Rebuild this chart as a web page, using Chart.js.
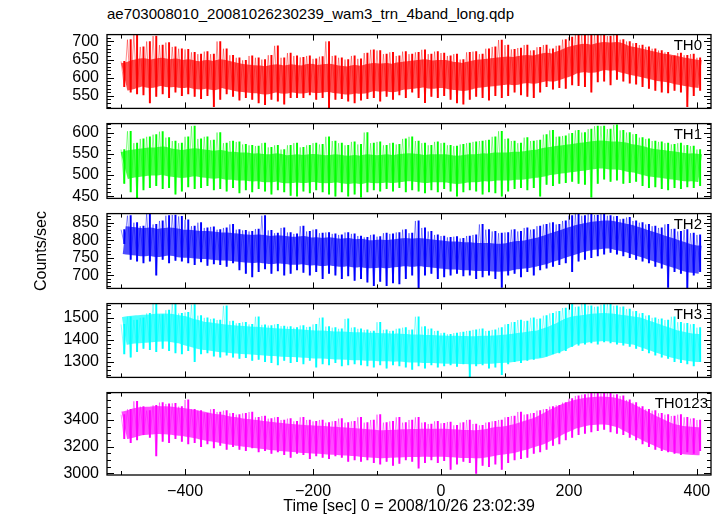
<!DOCTYPE html>
<html>
<head>
<meta charset="utf-8">
<script src="https://cdn.jsdelivr.net/npm/chart.js@4.4.1/dist/chart.umd.min.js"></script>
<style>
  body { margin: 0; background: #fff; }
  #page { position: relative; width: 723px; height: 516px; overflow: hidden; }
  #page canvas { position: absolute; left: 0; }
  #title { position: absolute; left: 107px; top: 5px; font: 15px "Liberation Sans", Arial, sans-serif; line-height: 17px; white-space: nowrap; color: #000; }
</style>
</head>
<body>
<div id="page"><div id="title">ae703008010_20081026230239_wam3_trn_4band_long.qdp</div></div>
<script>
// bin start times (sec), 10 s bins
const times = [-500,-490,-480,-470,-460,-450,-440,-430,-420,-410,-400,-390,-380,-370,-360,-350,-340,-330,-320,-310,
  -300,-290,-280,-270,-260,-250,-240,-230,-220,-210,-200,-190,-180,-170,-160,-150,-140,-130,-120,-110,
  -100,-90,-80,-70,-60,-50,-40,-30,-20,-10,0,10,20,30,40,50,60,70,80,90,
  100,110,120,130,140,150,160,170,180,190,200,210,220,230,240,250,260,270,280,290,
  300,310,320,330,340,350,360,370,380,390,400];

// per-bin high / centre / low count rates
const th0Hi = [645,705,719,685,700,715,690,697,685,680, 678,670,665,672,665,700,680,662,655,648,
  660,655,650,662,688,655,668,660,656,660, 652,658,700,660,655,650,660,652,668,677,
  675,665,670,660,672,665,670,677,665,672, 668,660,665,650,670,672,665,680,685,704,
  690,678,682,690,675,684,690,680,688,705, 712,719,719,719,719,719,715,719,705,700,
  695,690,685,680,675,670,660,668,662,665, 655];
const th0Mid = [602,606,612,615,610,614,616,612,614,610, 612,608,606,610,604,612,608,604,600,598,
  596,595,592,596,598,594,598,596,595,600, 596,598,600,596,594,592,596,594,598,602,
  600,602,598,604,606,608,610,612,608,610, 610,606,604,602,606,610,612,614,616,618,
  620,618,622,624,622,626,630,628,634,640, 648,652,655,652,656,660,658,660,652,648,
  644,640,636,632,628,626,622,618,615,612, 610];
const th0Lo = [575,560,555,552,530,548,555,545,560,550, 555,548,542,550,520,540,555,548,538,545,
  540,530,525,540,535,527,545,545,545,552, 540,545,515,540,542,535,530,538,542,545,
  535,548,540,552,545,560,545,531,548,545, 550,540,530,527,540,548,545,538,550,545,
  550,560,552,548,545,560,575,568,572,570, 580,578,575,560,588,590,580,595,590,585,
  582,575,570,565,560,558,565,560,520,550, 565];

const th1Hi = [560,603,575,585,590,595,602,588,580,575, 590,615,585,590,582,600,575,580,578,572,
  570,568,575,565,570,560,570,575,565,570, 575,572,590,580,575,570,578,572,600,575,
  578,570,575,572,585,590,580,575,570,578, 575,570,568,572,575,578,580,582,590,603,
  585,580,575,588,580,582,595,605,590,592, 598,605,600,608,615,615,608,618,605,600,
  596,588,585,580,578,575,572,575,570,568, 560];
const th1Mid = [522,526,528,530,532,532,534,530,528,526, 528,530,528,526,524,526,522,522,520,520,
  518,518,516,516,518,514,514,516,514,516, 516,514,514,516,514,512,514,512,516,514,
  514,516,514,516,518,518,516,514,516,516, 516,514,512,514,516,516,518,518,520,520,
  520,522,522,524,526,528,532,534,536,538, 540,542,544,546,548,548,546,546,544,540,
  538,534,530,528,526,524,522,520,518,518, 516];
const th1Lo = [480,460,446,465,470,475,468,470,455,462, 472,468,470,475,465,468,462,470,458,465,
  460,468,462,455,465,460,452,450,462,458, 465,460,455,450,460,450,455,448,460,465,
  462,468,462,470,460,465,462,458,465,460, 468,462,450,460,465,462,455,460,458,450,
  462,468,470,465,470,450,478,475,480,482, 485,480,478,448,480,490,485,488,480,482,
  485,475,470,472,468,465,470,468,472,470, 475];

const th2Hi = [830,870,850,840,876,845,855,870,872,868, 858,840,850,835,838,830,835,845,830,828,
  825,832,870,828,820,835,822,818,840,825, 830,820,822,818,815,822,818,812,808,815,
  810,820,818,822,830,820,855,835,825,815, 812,808,810,805,812,815,845,830,825,820,
  822,830,825,835,830,840,845,850,845,855, 870,876,870,876,872,875,870,868,860,865,
  855,850,845,840,835,845,832,825,830,820, 815];
const th2Mid = [800,798,796,794,796,792,794,796,794,790, 790,788,786,786,784,782,782,780,778,776,
  775,776,774,772,774,772,770,770,772,768, 768,766,768,766,764,766,762,764,760,760,
  762,760,762,764,766,764,766,764,762,760, 758,756,756,754,754,752,752,752,750,750,
  752,756,758,760,764,768,774,780,786,792, 798,804,808,812,814,816,816,812,808,804,
  798,792,786,780,774,768,762,756,750,746, 744];
const th2Lo = [790,745,740,735,740,700,745,735,742,740, 735,730,738,728,732,730,725,735,715,705,
  695,710,718,705,712,700,705,715,708,700, 710,690,705,700,690,698,685,690,680,670,
  682,670,678,675,690,700,662,700,705,690, 695,700,705,698,700,690,695,700,690,665,
  700,705,695,710,700,715,720,725,730,735, 710,740,745,750,755,760,765,760,755,750,
  745,740,735,725,720,665,710,705,662,700, 710];

const th3Hi = [1470,1505,1490,1500,1520,1565,1515,1535,1565,1520, 1525,1560,1510,1500,1495,1490,1555,1485,1475,1480,
  1470,1505,1468,1465,1470,1462,1460,1455,1465,1458, 1470,1500,1460,1455,1450,1495,1455,1450,1445,1440,
  1480,1445,1440,1450,1455,1445,1505,1460,1450,1440, 1430,1425,1430,1435,1440,1445,1450,1440,1445,1455,
  1470,1480,1490,1485,1500,1495,1510,1520,1530,1545, 1565,1550,1565,1555,1550,1560,1565,1555,1550,1540,
  1530,1520,1510,1500,1495,1490,1505,1480,1475,1470, 1455];
const th3Mid = [1440,1445,1448,1450,1452,1455,1456,1455,1450,1446, 1436,1428,1420,1416,1412,1408,1405,1402,1400,1398,
  1396,1394,1392,1390,1388,1386,1385,1384,1382,1380, 1378,1378,1376,1374,1374,1372,1370,1370,1368,1368,
  1366,1366,1364,1364,1362,1360,1360,1358,1358,1356, 1355,1354,1354,1353,1352,1352,1354,1354,1356,1358,
  1360,1364,1368,1372,1376,1380,1390,1400,1412,1426, 1440,1446,1450,1454,1456,1458,1456,1452,1448,1444,
  1440,1430,1420,1410,1400,1390,1380,1374,1368,1364, 1362];
const th3Lo = [1335,1320,1345,1360,1355,1345,1360,1350,1340,1335, 1350,1300,1335,1340,1325,1320,1330,1320,1315,1318,
  1305,1310,1300,1295,1285,1305,1295,1300,1290,1305, 1275,1290,1285,1295,1280,1285,1290,1285,1280,1275,
  1285,1270,1285,1280,1275,1265,1280,1270,1285,1275, 1280,1285,1278,1290,1230,1280,1285,1270,1275,1240,
  1290,1300,1295,1305,1310,1320,1325,1335,1340,1350, 1370,1375,1380,1385,1380,1390,1385,1380,1375,1370,
  1360,1350,1340,1330,1320,1315,1300,1295,1290,1280, 1300];

const th0123Hi = [3440,3480,3540,3500,3470,3510,3530,3520,3525,3500, 3550,3480,3470,3450,3480,3460,3470,3450,3440,3450,
  3460,3420,3430,3410,3420,3400,3410,3390,3420,3400, 3390,3400,3380,3390,3410,3380,3390,3420,3380,3400,
  3440,3380,3390,3420,3380,3400,3420,3380,3370,3390, 3375,3385,3360,3380,3400,3370,3360,3380,3390,3400,
  3420,3430,3460,3440,3450,3470,3480,3500,3510,3530, 3560,3580,3590,3600,3605,3600,3605,3590,3580,3550,
  3530,3500,3480,3470,3450,3440,3430,3440,3420,3410, 3400];
const th0123Mid = [3360,3370,3385,3392,3395,3400,3398,3396,3390,3385, 3378,3370,3360,3350,3342,3335,3325,3318,3310,3304,
  3298,3292,3286,3280,3275,3270,3266,3262,3258,3255, 3252,3250,3246,3244,3240,3238,3234,3230,3226,3222,
  3218,3220,3222,3224,3226,3228,3228,3230,3228,3230, 3229,3226,3224,3220,3220,3218,3222,3230,3240,3246,
  3252,3262,3275,3290,3305,3321,3345,3370,3395,3416, 3436,3450,3460,3466,3470,3470,3466,3455,3440,3415,
  3390,3365,3340,3318,3296,3275,3262,3252,3246,3242, 3240];
const th0123Lo = [3260,3230,3250,3290,3270,3130,3240,3230,3260,3240, 3220,3230,3200,3220,3190,3210,3180,3200,3180,3170,
  3190,3160,3170,3150,3160,3140,3120,3150,3140,3110, 3130,3120,3110,3130,3120,3090,3100,3090,3100,3080,
  3070,3090,3060,3075,3100,3090,3040,3080,3100,3080, 3095,3030,3070,3090,3080,3000,3060,3050,3070,3030,
  3080,3100,3110,3120,3150,3160,3180,3210,3220,3250, 3270,3290,3300,3310,3320,3330,3310,3300,3290,3270,
  3250,3220,3200,3180,3170,3160,3150,3140,3160,3150, 3170];

// tick labels
const xTickLabels = [-400, -200, 0, 200, 400];
const th0Ticks = [550, 600, 650, 700];
const th1Ticks = [450, 500, 550, 600];
const th2Ticks = [700, 750, 800, 850];
const th3Ticks = [1300, 1400, 1500];
const th0123Ticks = [3000, 3200, 3400];
const xTitle = 'Time [sec] 0 = 2008/10/26 23:02:39';
const yTitle = 'Counts/sec';

const FONT = '"Liberation Sans", Arial, Helvetica, sans-serif';
Chart.defaults.font.family = FONT;
Chart.defaults.color = '#000';

const panels = [
  { name: 'TH0', hi: th0Hi, mid: th0Mid, lo: th0Lo, ticks: th0Ticks, color: '255,0,0', min: 515, max: 719, minor: 10, labelX: 702 },
  { name: 'TH1', hi: th1Hi, mid: th1Mid, lo: th1Lo, ticks: th1Ticks, color: '0,255,0', min: 445, max: 621, minor: 10, labelX: 702 },
  { name: 'TH2', hi: th2Hi, mid: th2Mid, lo: th2Lo, ticks: th2Ticks, color: '0,0,255', min: 662, max: 876, minor: 10, labelX: 702 },
  { name: 'TH3', hi: th3Hi, mid: th3Mid, lo: th3Lo, ticks: th3Ticks, color: '0,255,255', min: 1228, max: 1565, minor: 20, labelX: 702 },
  { name: 'TH0123', hi: th0123Hi, mid: th0123Mid, lo: th0123Lo, ticks: th0123Ticks, color: '255,0,255', min: 2988, max: 3605, minor: 50, labelX: 708 }
];

const fmt = v => (v < 0 ? '\u2212' + (-v) : String(v));

// frame, inward ticks and panel name
const frameTicks = {
  id: 'frameTicks',
  afterDatasetsDraw(chart, args, opts) {
    const { ctx, chartArea: a } = chart;
    const x = chart.scales.x, y = chart.scales.y;
    ctx.save();
    ctx.strokeStyle = '#000';
    ctx.lineWidth = 1;
    ctx.beginPath();
    for (let v = -500; v <= 400; v += 100) {
      const px = Math.round(x.getPixelForValue(v)) + 0.5;
      const len = v % 200 === 0 ? 6 : 4;
      ctx.moveTo(px, a.top); ctx.lineTo(px, a.top + len);
      ctx.moveTo(px, a.bottom); ctx.lineTo(px, a.bottom - len);
    }
    for (let v = Math.ceil(y.min / opts.minor) * opts.minor; v <= y.max; v += opts.minor) {
      const py = Math.round(y.getPixelForValue(v)) + 0.5;
      const len = opts.major.includes(v) ? 7 : 4;
      ctx.moveTo(a.left, py); ctx.lineTo(a.left + len, py);
      ctx.moveTo(a.right, py); ctx.lineTo(a.right - len, py);
    }
    ctx.stroke();
    ctx.lineWidth = 1.3;
    ctx.strokeRect(a.left, a.top, a.right - a.left, a.bottom - a.top);
    ctx.fillStyle = '#000';
    ctx.font = '15px ' + FONT;
    ctx.textAlign = 'right';
    ctx.textBaseline = 'middle';
    ctx.fillText(opts.name, opts.labelX, a.top + 11);
    ctx.restore();
  }
};

const page = document.getElementById('page');
const tops = [27, 116, 206, 296, 385, 475];

panels.forEach((p, k) => {
  const last = k === panels.length - 1;
  const top = tops[k], bottom = tops[k + 1];
  const cTop = top - 10;
  const cH = last ? 516 - cTop : bottom - top + 20;
  const canvas = document.createElement('canvas');
  canvas.width = 723; canvas.height = cH;
  canvas.style.top = cTop + 'px';
  page.appendChild(canvas);

  const ranges = times.map((t, i) => ({ x: t + 5, y: [p.lo[i], p.hi[i]] }));
  const spikes = [];
  times.forEach((t, i) => {
    spikes.push({ x: t, y: p.hi[i] });
    spikes.push({ x: t + 5, y: p.lo[i] });
  });
  const core = times.map((t, i) => ({ x: t + 5, y: p.mid[i] }));

  new Chart(canvas, {
    data: {
      datasets: [{
        type: 'line',
        data: spikes,
        borderColor: 'rgba(' + p.color + ',0.45)',
        borderWidth: 1,
        pointRadius: 0,
        tension: 0,
        fill: false,
        order: 3
      }, {
        type: 'line',
        data: core,
        borderColor: 'rgba(' + p.color + ',0.7)',
        borderWidth: 28,
        pointRadius: 0,
        tension: 0.3,
        fill: false,
        order: 2
      }, {
        type: 'bar',
        data: ranges,
        backgroundColor: 'rgb(' + p.color + ')',
        barThickness: 1.3,
        borderWidth: 0,
        order: 1
      }]
    },
    options: {
      responsive: false,
      animation: false,
      events: [],
      layout: { padding: { top: 10, bottom: last ? 0 : 10, left: 0, right: 12 } },
      plugins: {
        legend: { display: false },
        tooltip: { enabled: false },
        frameTicks: { name: p.name, labelX: p.labelX, minor: p.minor, major: p.ticks }
      },
      scales: {
        x: {
          type: 'linear',
          min: -522, max: 422,
          offset: false,
          display: last,
          grid: { display: false, drawTicks: false, offset: false },
          border: { display: false },
          afterBuildTicks: s => { s.ticks = xTickLabels.map(v => ({ value: v })); },
          afterFit: s => { if (last) s.height = 41; },
          ticks: { font: { size: 16 }, padding: 7, maxRotation: 0, callback: fmt },
          title: { display: true, text: xTitle, font: { size: 16 }, padding: { top: 0, bottom: 0 } }
        },
        y: {
          min: p.min, max: p.max,
          grid: { display: false, drawTicks: false },
          border: { display: false },
          afterBuildTicks: s => { s.ticks = p.ticks.map(v => ({ value: v })); },
          afterFit: s => { s.width = 107; },
          ticks: { font: { size: 16 }, padding: 8, callback: fmt },
          title: { display: k === 2, text: yTitle, font: { size: 16 }, padding: { top: 32, bottom: 0 } }
        }
      }
    },
    plugins: [frameTicks]
  });
});
</script>
</body>
</html>
